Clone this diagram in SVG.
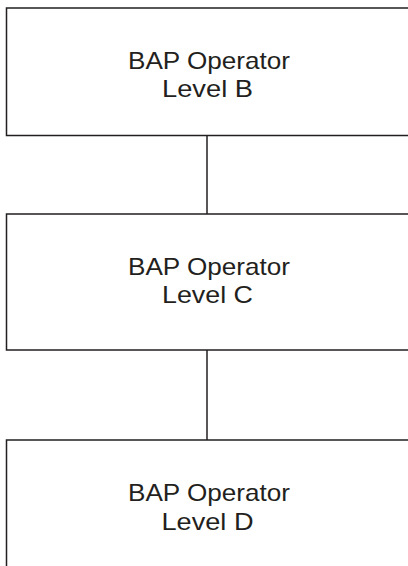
<svg xmlns="http://www.w3.org/2000/svg" width="408" height="566" viewBox="0 0 408 566">
<style>
.box{fill:#fff;stroke:#231f20;stroke-width:1.5}
.t{font-family:"Liberation Sans",Arial,sans-serif;font-size:24px;fill:#231f20;text-anchor:middle}
.c{stroke:#231f20;stroke-width:1.5;fill:none}
</style>
<rect width="408" height="566" fill="#fff"/>
<g id="connectors">
<line class="c" x1="207" y1="135.5" x2="207" y2="214"/>
<line class="c" x1="207" y1="350" x2="207" y2="440"/>
</g>
<g id="nodeB">
<rect class="box" x="6.5" y="8" width="420" height="127.5"/>
<text class="t" x="209" y="68.5" textLength="162" lengthAdjust="spacingAndGlyphs">BAP Operator</text>
<text class="t" x="207.5" y="97" textLength="91" lengthAdjust="spacingAndGlyphs">Level B</text>
</g>
<g id="nodeC">
<rect class="box" x="6.5" y="214" width="420" height="136"/>
<text class="t" x="209" y="274.5" textLength="162" lengthAdjust="spacingAndGlyphs">BAP Operator</text>
<text class="t" x="207.5" y="303" textLength="91" lengthAdjust="spacingAndGlyphs">Level C</text>
</g>
<g id="nodeD">
<rect class="box" x="6.5" y="440" width="420" height="140"/>
<text class="t" x="209" y="501" textLength="162" lengthAdjust="spacingAndGlyphs">BAP Operator</text>
<text class="t" x="207.5" y="529.5" textLength="92" lengthAdjust="spacingAndGlyphs">Level D</text>
</g>
</svg>
